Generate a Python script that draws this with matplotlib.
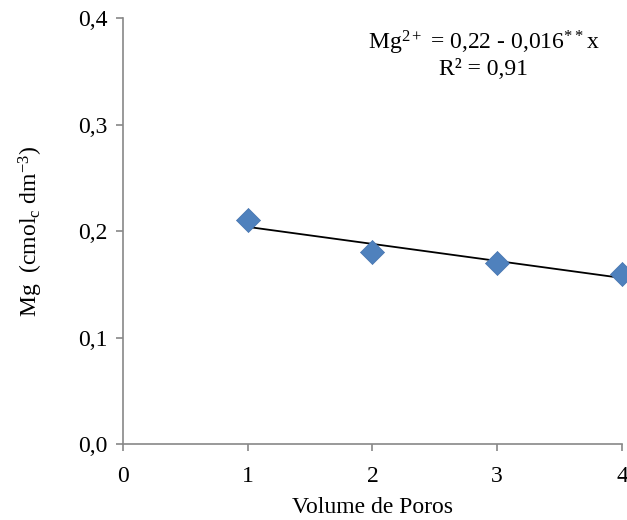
import matplotlib
matplotlib.use("Agg")
import matplotlib.pyplot as plt
import numpy as np

volume = [1, 2, 3, 4]
mg = [0.21, 0.18, 0.17, 0.16]
intercept = 0.22
slope = -0.016
xticks = [0, 1, 2, 3, 4]
yticks = [0.0, 0.1, 0.2, 0.3, 0.4]
ytick_labels = ["0,0", "0,1", "0,2", "0,3", "0,4"]

plt.rcParams['font.family'] = ['Liberation Serif', 'DejaVu Serif']
plt.rcParams['mathtext.fontset'] = 'custom'
plt.rcParams['mathtext.rm'] = 'Liberation Serif'
plt.rcParams['mathtext.it'] = 'Liberation Serif'

FS = 17

fig = plt.figure(figsize=(6.27, 5.2), dpi=100)
ax = fig.add_axes([0.196, 0.146, 0.796, 0.819])

xl = np.array([volume[0], volume[-1]])
ax.plot(xl, intercept + slope * xl, color='black', lw=1.3, zorder=2)
ax.scatter(volume, mg, marker='D', s=150, color='#4F81BD', edgecolors='#4572AE',
           linewidths=0.5, zorder=3, clip_on=False)

ax.set_xlim(0, 4)
ax.set_ylim(0, 0.4)
ax.set_xticks(xticks)
ax.set_xticklabels([str(t) for t in xticks])
ax.set_yticks(yticks)
ax.set_yticklabels(ytick_labels)
for s in ['top', 'right']:
    ax.spines[s].set_visible(False)
for s in ['left', 'bottom']:
    ax.spines[s].set_color('#888888')
    ax.spines[s].set_linewidth(1.2)
ax.tick_params(axis='y', direction='out', length=5, color='#888888', width=1.2,
               labelsize=FS, pad=6)
ax.tick_params(axis='x', direction='out', length=5, color='#888888', width=1.2,
               labelsize=FS, pad=11)

ax.set_xlabel('Volume de Poros', fontsize=FS, labelpad=7)
ax.set_ylabel(r'Mg  (cmol$_\mathrm{c}$ dm$^{\mathrm{-3}}$)', fontsize=FS, labelpad=24)

ax.text(0.723, 0.942, r'Mg$^{\mathrm{2+}}$ = 0,22 - 0,016$^{\mathrm{**}}$x', transform=ax.transAxes,
        ha='center', va='center', fontsize=FS)
ax.text(0.723, 0.88, 'R² = 0,91', transform=ax.transAxes,
        ha='center', va='center', fontsize=FS)

fig.savefig('out.png', dpi=100)
